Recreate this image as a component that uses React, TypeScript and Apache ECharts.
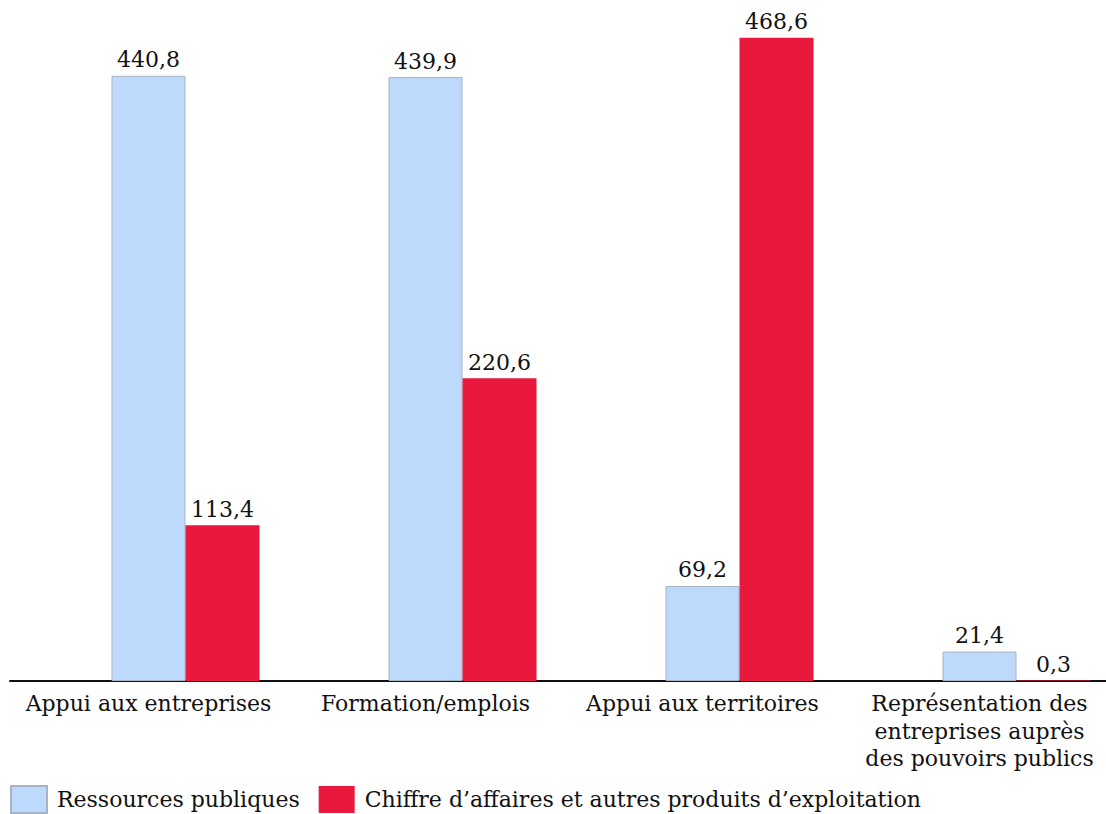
import React, { useEffect, useRef } from "react";
import * as echarts from "echarts";

const categories = [
  "Appui aux entreprises",
  "Formation/emplois",
  "Appui aux territoires",
  "Représentation des\nentreprises auprès\ndes pouvoirs publics",
];
const seriesNames = ["Ressources publiques", "Chiffre d’affaires et autres produits d’exploitation"];
const ressourcesPubliques = [440.8, 439.9, 69.2, 21.4];
const chiffreAffaires = [113.4, 220.6, 468.6, 0.3];

const FONT = "'DejaVu Serif', serif";
const FS = 22;
const fmt = (v: number) => v.toFixed(1).replace(".", ",");

export default function App() {
  const ref = useRef<HTMLDivElement>(null);
  useEffect(() => {
    if (!ref.current) return;
    const chart = echarts.init(ref.current, undefined, { renderer: "svg" });
    const label = {
      show: true,
      position: "top" as const,
      distance: 5,
      color: "#111",
      fontFamily: FONT,
      fontSize: FS,
      formatter: (p: any) => fmt(p.value),
    };
    chart.setOption({
      animation: false,
      textStyle: { fontFamily: FONT },
      grid: { left: 10, right: 2, top: 22, bottom: 133, containLabel: false },
      legend: {
        data: seriesNames,
        left: 10,
        top: 785,
        padding: 0,
        itemWidth: 36,
        itemHeight: 27,
        itemGap: 19,
        icon: "rect",
        textStyle: { fontFamily: FONT, fontSize: FS, color: "#111", padding: [0, 0, 0, 5] },
      },
      xAxis: {
        type: "category",
        data: categories,
        axisLine: { lineStyle: { color: "#111", width: 2 } },
        axisTick: { show: false },
        axisLabel: {
          fontFamily: FONT,
          fontSize: FS,
          color: "#111",
          lineHeight: 27.5,
          margin: 9,
          interval: 0,
        },
      },
      yAxis: {
        type: "value",
        min: 0,
        max: 480,
        show: false,
        splitLine: { show: false },
      },
      series: [
        { name: "_", type: "bar", data: [null, null, null, null], barWidth: 74, barGap: "0%" },
        {
          name: seriesNames[0],
          type: "bar",
          data: ressourcesPubliques,
          barWidth: 74,
          barGap: "0%",
          itemStyle: { color: "#BDD9FB", borderColor: "#A8B4C4", borderWidth: 1 },
          label,
        },
        {
          name: seriesNames[1],
          type: "bar",
          data: chiffreAffaires,
          barWidth: 74,
          barGap: "0%",
          itemStyle: { color: "#E8193C", borderColor: "#E8193C", borderWidth: 0 },
          label,
        },
      ],
    });
    return () => chart.dispose();
  }, []);
  return (
    <div
      style={{ position: "absolute", left: 0, top: 0, width: 1106, height: 814, overflow: "hidden", background: "#fff" }}
    >
      <div ref={ref} style={{ width: 1120, height: 814 }} />
    </div>
  );
}
